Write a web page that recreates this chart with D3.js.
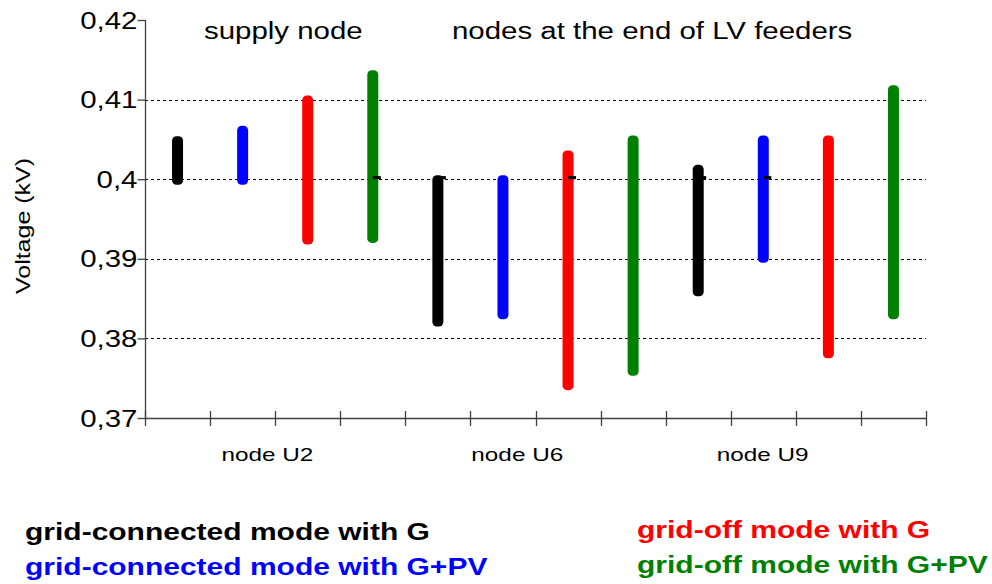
<!DOCTYPE html>
<html>
<head>
<meta charset="utf-8">
<script src="https://cdn.jsdelivr.net/npm/d3@7"></script>
<style>
  body { margin: 0; background: #fff; }
  svg { display: block; font-family: "Liberation Sans", Arial, sans-serif; }
</style>
</head>
<body>
<svg width="992" height="584"></svg>
<script>
// modes (series) and nodes (groups)
var modes = ['grid-connected mode with G', 'grid-connected mode with G+PV', 'grid-off mode with G', 'grid-off mode with G+PV'];
var modeColors = ['#000000', '#0000ff', '#ff0000', '#008000'];
var nodes = ['node U2', 'node U6', 'node U9'];

// max / min voltage (kV) per mode, one pair per node
var maxU2 = [0.4054, 0.4067, 0.4105, 0.4137];
var minU2 = [0.3993, 0.3993, 0.3918, 0.3920];
var maxU6 = [0.4005, 0.4005, 0.4036, 0.4055];
var minU6 = [0.3815, 0.3824, 0.3735, 0.3753];
var maxU9 = [0.4018, 0.4055, 0.4055, 0.4118];
var minU9 = [0.3853, 0.3895, 0.3775, 0.3824];
// small close markers seen next to some bars
var closeU2 = [null, null, null, 0.4002];
var closeU6 = [0.4002, null, 0.4002, null];
var closeU9 = [0.4002, 0.4002, null, null];

var yTicks = [0.37, 0.38, 0.39, 0.40, 0.41, 0.42];
var yTickLabels = ['0,37', '0,38', '0,39', '0,4', '0,41', '0,42'];

var maxAll = [maxU2, maxU6, maxU9];
var minAll = [minU2, minU6, minU9];
var closeAll = [closeU2, closeU6, closeU9];

var rows = [];
nodes.forEach(function(n, i) {
    modes.forEach(function(m, j) {
        rows.push({node: n, mode: m, key: n + '|' + m, color: modeColors[j],
            hi: maxAll[i][j], lo: minAll[i][j], close: closeAll[i][j]});
    });
});

var svg = d3.select('svg');
var sx = 1.28; // text in the picture is drawn wide

var x = d3.scaleBand()
    .domain(rows.map(function(d) { return d.key; }))
    .range([145, 926]);

var y = d3.scaleLinear()
    .domain([0.37, 0.42])
    .range([418, 20]);

var axisColor = '#404040';

// gridlines
svg.append('g').selectAll('line')
    .data(yTicks.filter(function(t) { return t > 0.371 && t < 0.419; }))
    .enter().append('line')
    .attr('x1', 145).attr('x2', 926)
    .attr('y1', function(d) { return Math.round(y(d)) + 0.5; })
    .attr('y2', function(d) { return Math.round(y(d)) + 0.5; })
    .attr('stroke', '#000')
    .attr('stroke-width', 1)
    .attr('stroke-dasharray', '3,3');

// y axis
var yAxis = svg.append('g')
    .attr('transform', 'translate(145.5,0)')
    .call(d3.axisLeft(y).tickValues(yTicks).tickSize(8).tickFormat(''));
yAxis.selectAll('path, line').attr('stroke', axisColor).attr('stroke-width', 1.3);
yAxis.select('.domain').attr('d', 'M0,' + y(0.42) + 'V' + y(0.37));

yAxis.selectAll('.tick').append('text')
    .attr('transform', 'translate(-8,8) scale(' + sx + ',1)')
    .attr('text-anchor', 'end')
    .attr('fill', '#000')
    .style('font-size', '23px')
    .text(function(d, i) { return yTickLabels[i]; });

// x axis: ticks at band boundaries, crossing the axis line
var bounds = x.domain().map(function(k) { return x(k); }).concat([x.range()[1]]);
var xAxis = svg.append('g');
xAxis.append('line')
    .attr('x1', 145).attr('x2', 926)
    .attr('y1', y(0.37) + 0.5).attr('y2', y(0.37) + 0.5)
    .attr('stroke', axisColor).attr('stroke-width', 1.3);
xAxis.selectAll('.xt')
    .data(bounds)
    .enter().append('line')
    .attr('x1', function(d) { return Math.round(d) + 0.5; })
    .attr('x2', function(d) { return Math.round(d) + 0.5; })
    .attr('y1', y(0.37) - 7).attr('y2', y(0.37) + 8)
    .attr('stroke', axisColor).attr('stroke-width', 1.3);

// category labels, placed as in the picture (shift from group start, in bands)
var labelShift = [1.88, 1.72, 1.49];
svg.append('g').selectAll('text')
    .data(nodes)
    .enter().append('text')
    .attr('transform', function(d, i) {
        var x0 = x(d + '|' + modes[0]);
        return 'translate(' + (x0 + labelShift[i] * x.bandwidth()) + ',461) scale(' + sx + ',1)';
    })
    .attr('text-anchor', 'middle')
    .style('font-size', '19px')
    .text(function(d) { return d; });

// min-max bars
var barW = 11;
svg.append('g').selectAll('rect')
    .data(rows)
    .enter().append('rect')
    .attr('x', function(d) { return x(d.key) + x.bandwidth() / 2 - barW / 2; })
    .attr('y', function(d) { return y(d.hi); })
    .attr('width', barW)
    .attr('height', function(d) { return y(d.lo) - y(d.hi); })
    .attr('rx', 4.5)
    .attr('fill', function(d) { return d.color; });

svg.append('g').selectAll('rect')
    .data(rows.filter(function(d) { return d.close != null; }))
    .enter().append('rect')
    .attr('x', function(d) { return x(d.key) + x.bandwidth() / 2; })
    .attr('y', function(d) { return y(d.close) - 1.5; })
    .attr('width', 8)
    .attr('height', 3)
    .attr('fill', '#000');

// headings over the plot
svg.append('text')
    .attr('transform', 'translate(204,39) scale(' + sx + ',1)')
    .style('font-size', '23px')
    .text('supply node');
svg.append('text')
    .attr('transform', 'translate(452,39) scale(' + sx + ',1)')
    .style('font-size', '23px')
    .text('nodes at the end of LV feeders');

// y title
svg.append('text')
    .attr('transform', 'translate(30,226) rotate(-90) scale(1.25,1)')
    .attr('text-anchor', 'middle')
    .style('font-size', '20px')
    .text('Voltage (kV)');

// legend
var legendPos = [[25, 540], [25, 575], [637, 538], [637, 573]];
svg.append('g').selectAll('text')
    .data(modes)
    .enter().append('text')
    .attr('transform', function(d, i) {
        return 'translate(' + legendPos[i][0] + ',' + legendPos[i][1] + ') scale(1.25,1)';
    })
    .attr('fill', function(d, i) { return modeColors[i]; })
    .style('font-size', '24px')
    .style('font-weight', 'bold')
    .text(function(d) { return d; });
</script>
</body>
</html>
